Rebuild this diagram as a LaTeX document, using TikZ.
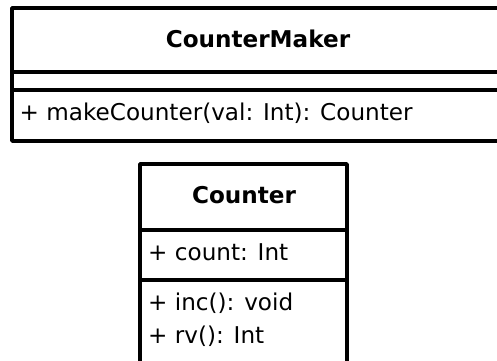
\documentclass[tikz,border=0pt]{standalone}
\usepackage{fontspec}
\setmainfont{DejaVu Sans}
\begin{document}
\begin{tikzpicture}[x=1bp,y=-1bp,
  box/.style={draw, line width=3.5bp, line join=round},
  classtitle/.style={font=\fontsize{23.2}{27}\selectfont\bfseries, anchor=base, inner sep=0pt},
  member/.style={font=\fontsize{23.2}{27}\selectfont, anchor=base west, inner sep=0pt}]
\useasboundingbox (0,0) rectangle (497,360);
\clip (0,0) rectangle (497,360);
% CounterMaker
\draw[box] (12,8) rectangle (506,141);
\draw[box] (12,72) -- (506,72);
\draw[box] (12,90) -- (506,90);
\node[classtitle] (cmtitle) at (258,47) {CounterMaker};
\node[member] (cmop) at (19.5,120) {+ makeCounter(val: Int): Counter};
% Counter
\draw[box] (140,164) rectangle (347,385);
\draw[box] (140,230) -- (347,230);
\draw[box] (140,280) -- (347,280);
\node[classtitle] (ctitle) at (244,203) {Counter};
\node[member] (cattr) at (148,260) {+ count: Int};
\node[member] (cop1) at (148,310) {+ inc(): void};
\node[member] (cop2) at (148,343) {+ rv(): Int};
\end{tikzpicture}
\end{document}
